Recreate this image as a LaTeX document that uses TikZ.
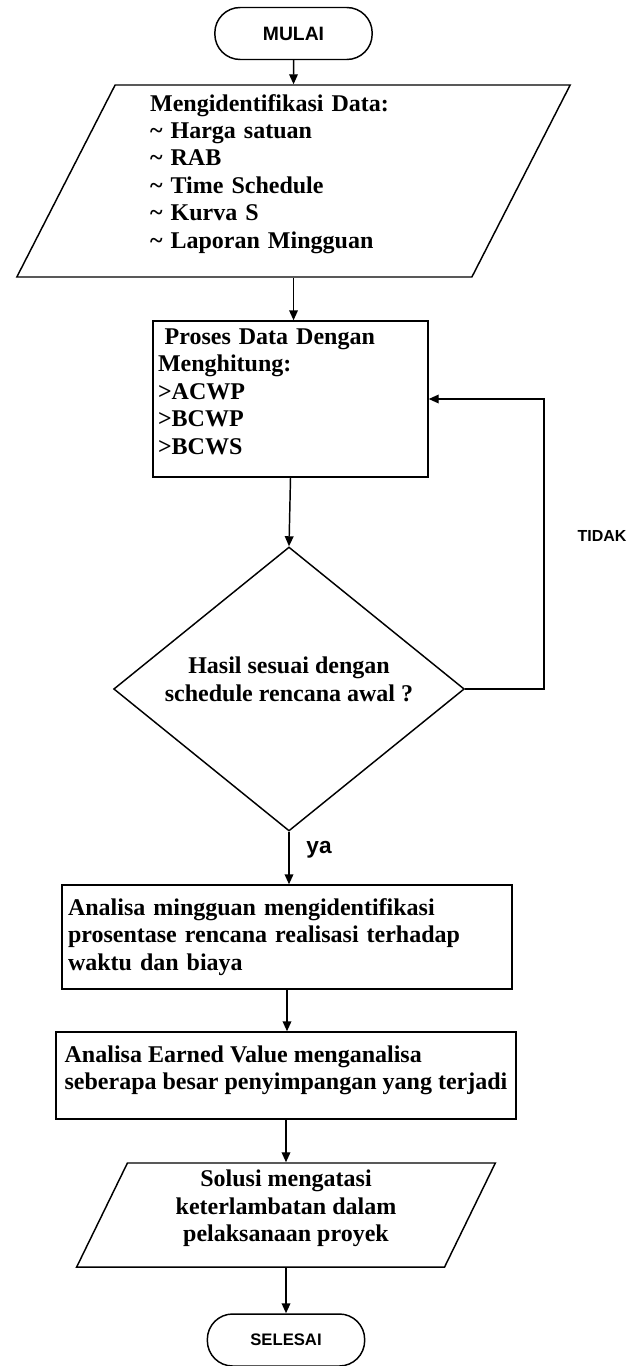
\documentclass[tikz,border=0pt]{standalone}
\usepackage{fontspec}
\setmainfont{Liberation Serif}
\newfontfamily\arialfont{Liberation Sans}
\usepackage{tikz}
\usetikzlibrary{arrows.meta,shapes,shapes.geometric}
\usetikzlibrary{positioning}

\begin{document}
\begin{tikzpicture}[x=0.75pt,y=-0.75pt,line width=1.1pt,>={Triangle[length=7.5pt,width=6.5pt]}]
            \tikzstyle{every node}=[font=\fontsize{18}{20.6}\selectfont\bfseries];
            \tikzstyle{terminal}=[draw,rectangle,rounded corners=19pt,minimum width=118pt,minimum height=39pt,font=\arialfont\fontsize{12.5}{15}\selectfont\bfseries];
            \tikzstyle{inout}=[draw,trapezium,trapezium left angle=60.5,trapezium right angle=119.5,trapezium stretches body,inner sep=0pt];
            \tikzstyle{proses}=[draw,rectangle,inner xsep=3.75pt,inner ysep=0pt,align=left];
            \tikzstyle{keputusan}=[draw,diamond,aspect=1.3,inner sep=0pt,minimum width=263pt,minimum height=213pt,align=center];
            \tikzstyle{ket}=[font=\arialfont\bfseries];
            \useasboundingbox (0,0) rectangle (628,1366);
            \node[terminal,font=\arialfont\fontsize{14.5}{17}\selectfont\bfseries] (mulai) at (293.5, 33.5) {MULAI};
            \node[inout,minimum width=415pt,minimum height=144pt,text width=215pt,align=left] (data) at (293.5, 181) {Mengidentifikasi Data:\\ \textasciitilde{} Harga satuan\\ \textasciitilde{} RAB\\ \textasciitilde{} Time Schedule\\ \textasciitilde{} Kurva S\\ \textasciitilde{} Laporan Mingguan\\[-6pt] \mbox{}};
            \node[proses,minimum width=206.25pt,minimum height=117pt,text width=198.75pt] (hitung) at (290.5, 399) {\hspace*{5pt}Proses Data Dengan\\ Menghitung:\\ >ACWP\\ >BCWP\\ >BCWS\\[-9pt] \mbox{}};
            \node[keputusan] (cek) at (289, 689) {Hasil sesuai dengan\\ schedule rencana awal ?\\[-5.6pt] \mbox{}};
            \node[proses,minimum width=337.5pt,minimum height=78pt,inner xsep=4.5pt,text width=328.5pt] (mingguan) at (287, 937) {Analisa mingguan mengidentifikasi\\ prosentase rencana realisasi terhadap\\ waktu dan biaya};
            \node[proses,minimum width=345pt,minimum height=65.25pt,inner xsep=2pt] (earned) at (286, 1075.5) {Analisa Earned Value menganalisa\\ seberapa besar penyimpangan yang terjadi\\[-8.6pt] \mbox{}};
            \node[inout,minimum width=314pt,minimum height=78pt,align=center] (solusi) at (286, 1215) {Solusi mengatasi\\ keterlambatan dalam\\ pelaksanaan proyek\\[-7pt] \mbox{}};
            \node[terminal] (selesai) at (286, 1340) {SELESAI};
            \coordinate (balik) at (544, 399);
            \node[ket,font=\arialfont\fontsize{12}{14}\selectfont\bfseries] (tidak) at (602, 536) {TIDAK};
            \node[ket,font=\arialfont\fontsize{17}{20}\selectfont\bfseries] (ya) at (319, 850) {ya};
            \path[draw] [->] (mulai) -- (data);
            \path[draw] [->] (data.south) -- (data.south |- hitung.north);
            \path[draw] [->] (hitung.south) -- (cek.north);
            \path[draw] [->] (cek.east) -| (balik) -- (hitung.east);
            \path[draw] [->] (cek.south) -- (cek.south |- mingguan.north);
            \path[draw] [->] (mingguan.south) -- (mingguan.south |- earned.north);
            \path[draw] [->] (earned.south) -- (earned.south |- solusi.north);
            \path[draw] [->] (solusi.south) -- (solusi.south |- selesai.north);
        \end{tikzpicture}
\end{document}
